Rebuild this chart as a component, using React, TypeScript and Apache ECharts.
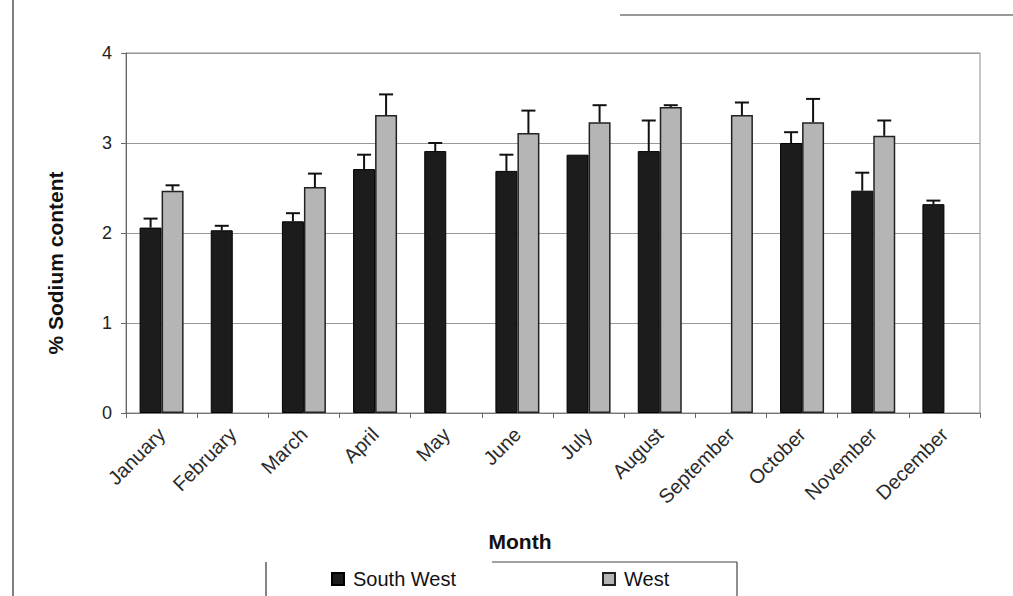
import React, { useEffect, useRef } from "react";
import * as echarts from "echarts";

const months = ["January", "February", "March", "April", "May", "June", "July", "August", "September", "October", "November", "December"];
const yTicks = [0, 1, 2, 3, 4];
const southWest = [2.06, 2.03, 2.13, 2.71, 2.91, 2.69, 2.87, 2.91, null, 3.0, 2.47, 2.32];
const southWestErr = [0.1, 0.05, 0.09, 0.16, 0.09, 0.18, 0, 0.34, null, 0.12, 0.2, 0.04];
const west = [2.47, null, 2.51, 3.31, null, 3.11, 3.23, 3.4, 3.31, 3.23, 3.08, null];
const westErr = [0.06, null, 0.15, 0.23, null, 0.25, 0.19, 0.02, 0.14, 0.26, 0.17, null];
const seriesNames = ["South West", "West"];
const xTitle = "Month";
const yTitle = "% Sodium content";

const FONT = "'Liberation Sans', Arial, sans-serif";
const BAR_W = 22;

function errData(vals: (number | null)[], errs: (number | null)[]) {
  const out: any[] = [];
  vals.forEach((v, i) => {
    const e = errs[i];
    if (v != null && e != null && e > 0) out.push([i, v, v + e]);
  });
  return out;
}

function makeErrRender(offset: number) {
  return (params: any, api: any) => {
    const base = api.coord([api.value(0), api.value(1)]);
    const top = api.coord([api.value(0), api.value(2)]);
    const x = base[0] + offset;
    const cap = 7;
    const style = { stroke: "#111", lineWidth: 2 };
    return {
      type: "group",
      children: [
        { type: "line", shape: { x1: x, y1: base[1], x2: x, y2: top[1] }, style },
        { type: "line", shape: { x1: x - cap, y1: top[1], x2: x + cap, y2: top[1] }, style },
      ],
    };
  };
}

export default function App() {
  const ref = useRef<HTMLDivElement>(null);
  useEffect(() => {
    if (!ref.current) return;
    const chart = echarts.init(ref.current, null, { renderer: "svg" });
    chart.setOption({
      animation: false,
      backgroundColor: "#fff",
      grid: { left: 126, right: 33, top: 53, bottom: 183, show: true, borderColor: "#8a8a8a", borderWidth: 1 },
      legend: {
        data: seriesNames,
        left: 331,
        top: 569,
        itemWidth: 12,
        itemHeight: 12,
        itemGap: 146,
        icon: "rect",
        padding: 0,
        textStyle: { fontFamily: FONT, fontSize: 20, color: "#111", padding: [0, 0, 0, 4] },
      },
      xAxis: {
        type: "category",
        data: months,
        axisLine: { show: true, lineStyle: { color: "#777", width: 1 } },
        axisTick: { show: true, length: 5, lineStyle: { color: "#666" } },
        axisLabel: { rotate: 45, interval: 0, margin: 18, fontFamily: FONT, fontSize: 20, color: "#2a2a2a" },
        splitLine: { show: false },
      },
      yAxis: {
        type: "value",
        min: yTicks[0],
        max: yTicks[yTicks.length - 1],
        interval: 1,
        axisLine: { show: true, lineStyle: { color: "#666", width: 1 } },
        axisTick: { show: true, length: 5, lineStyle: { color: "#666" } },
        axisLabel: { margin: 14, fontFamily: FONT, fontSize: 18, color: "#222" },
        splitLine: { show: true, lineStyle: { color: "#999", width: 1 } },
      },
      series: [
        {
          name: seriesNames[0],
          type: "bar",
          data: southWest,
          barWidth: BAR_W,
          barGap: "0%",
          itemStyle: { color: "#1c1c1c", borderColor: "#000", borderWidth: 1 },
        },
        {
          name: seriesNames[1],
          type: "bar",
          data: west,
          barWidth: BAR_W,
          barGap: "0%",
          itemStyle: { color: "#b5b5b5", borderColor: "#222", borderWidth: 1.5 },
        },
        {
          type: "custom",
          data: errData(southWest, southWestErr),
          renderItem: makeErrRender(-BAR_W / 2),
          encode: { x: 0, y: [1, 2] },
          z: 3,
        },
        {
          type: "custom",
          data: errData(west, westErr),
          renderItem: makeErrRender(BAR_W / 2),
          encode: { x: 0, y: [1, 2] },
          z: 3,
        },
      ],
      graphic: [
        { type: "line", shape: { x1: 13, y1: 0, x2: 13, y2: 596 }, style: { stroke: "#555", lineWidth: 1.5 } },
        { type: "line", shape: { x1: 620, y1: 15, x2: 1013, y2: 15 }, style: { stroke: "#777", lineWidth: 1.5 } },
        {
          type: "text",
          x: 55,
          y: 263,
          rotation: Math.PI / 2,
          style: { text: yTitle, fontFamily: FONT, fontSize: 21, fontWeight: "bold", fill: "#111", align: "center", verticalAlign: "middle" },
        },
        {
          type: "text",
          x: 520,
          y: 541,
          style: { text: xTitle, fontFamily: FONT, fontSize: 21, fontWeight: "bold", fill: "#111", align: "center", verticalAlign: "middle" },
        },
        { type: "line", shape: { x1: 266, y1: 562, x2: 266, y2: 596 }, style: { stroke: "#333", lineWidth: 1.2 } },
        { type: "line", shape: { x1: 492, y1: 562, x2: 737, y2: 562 }, style: { stroke: "#444", lineWidth: 1.2 } },
        { type: "line", shape: { x1: 737, y1: 562, x2: 737, y2: 596 }, style: { stroke: "#444", lineWidth: 1.2 } },
      ],
    });
    return () => chart.dispose();
  }, []);
  return <div ref={ref} style={{ width: 1013, height: 596, position: "absolute", left: 0, top: 0 }} />;
}
